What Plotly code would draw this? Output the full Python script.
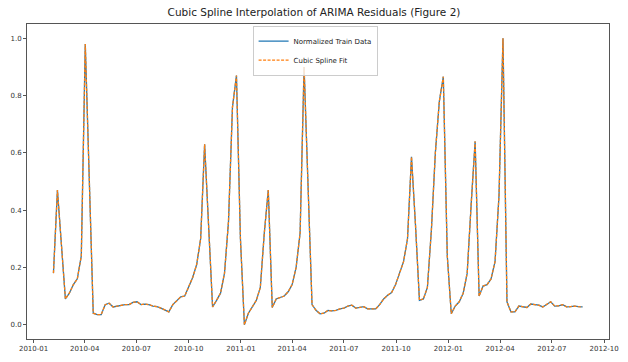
import pandas as pd
import plotly.graph_objects as go

start_date = "2010-02-05"
values = [
    0.18, 0.47, 0.28, 0.09, 0.11, 0.14, 0.16, 0.24, 0.98, 0.50,
    0.04, 0.035, 0.035, 0.07, 0.075, 0.062, 0.065, 0.068, 0.07, 0.07,
    0.078, 0.08, 0.07, 0.072, 0.07, 0.065, 0.063, 0.058, 0.05, 0.045,
    0.07, 0.085, 0.097, 0.10, 0.13, 0.165, 0.21, 0.30, 0.63, 0.36,
    0.062, 0.085, 0.11, 0.18, 0.36, 0.76, 0.87, 0.30, 0.0, 0.04,
    0.062, 0.085, 0.13, 0.32, 0.47, 0.06, 0.09, 0.095, 0.10, 0.115,
    0.14, 0.20, 0.32, 0.90, 0.47, 0.07, 0.05, 0.038, 0.04, 0.05,
    0.048, 0.05, 0.055, 0.058, 0.065, 0.068, 0.058, 0.06, 0.063, 0.055,
    0.055, 0.055, 0.07, 0.09, 0.103, 0.112, 0.14, 0.18, 0.22, 0.30,
    0.586, 0.35, 0.085, 0.09, 0.13, 0.33, 0.60, 0.78, 0.866, 0.24,
    0.038, 0.065, 0.08, 0.11, 0.18, 0.42, 0.64, 0.10, 0.135, 0.14,
    0.16, 0.22, 0.45, 1.0, 0.08, 0.045, 0.045, 0.065, 0.062, 0.06,
    0.072, 0.07, 0.068, 0.062, 0.07, 0.08, 0.065, 0.066, 0.07, 0.062,
    0.063, 0.065, 0.063, 0.062,
]
dates = pd.date_range(start_date, periods=len(values), freq="7D")
spline_fit = list(values)

title_text = "Cubic Spline Interpolation of ARIMA Residuals (Figure 2)"
series_names = ["Normalized Train Data", "Cubic Spline Fit"]
y_ticks = [0.0, 0.2, 0.4, 0.6, 0.8, 1.0]

fig = go.Figure()
fig.add_trace(go.Scatter(x=dates, y=values, mode="lines", name=series_names[0],
                         line=dict(color="#1f77b4", width=1.3)))
fig.add_trace(go.Scatter(x=dates, y=spline_fit, mode="lines", name=series_names[1],
                         line=dict(color="#ff7f0e", width=1.3, dash="3px,1.5px")))

span = dates[-1] - dates[0]
pad = span * 0.05
axis_style = dict(showline=True, linecolor="#555", linewidth=1, mirror=True,
                  ticks="outside", ticklen=3, tickcolor="#555", showgrid=False,
                  zeroline=False, tickfont=dict(size=7, color="#333"))

fig.update_layout(
    width=628, height=362,
    margin=dict(l=27, r=9, t=24, b=20),
    paper_bgcolor="white", plot_bgcolor="white",
    font=dict(family="DejaVu Sans", color="#222"),
    title=dict(text=title_text, x=0.5, xanchor="center", y=0.966, yanchor="middle",
               font=dict(size=10.5, color="#222")),
    legend=dict(x=0.495, y=0.995, xanchor="center", yanchor="top",
                bgcolor="rgba(255,255,255,0.8)", bordercolor="#ccc", borderwidth=1,
                font=dict(size=7, color="#222"), tracegroupgap=0,
                itemwidth=30),
    showlegend=True,
)
fig.update_xaxes(range=[dates[0] - pad, dates[-1] + pad], tickformat="%Y-%m",
                 dtick="M3", tick0="2010-01-01", **axis_style)
fig.update_yaxes(range=[-0.05, 1.05], tickvals=y_ticks, tickformat=".1f", **axis_style)

fig.write_html("out.html", config={"displayModeBar": False},
               post_script="document.body.style.margin='0';document.body.style.overflow='hidden';")
